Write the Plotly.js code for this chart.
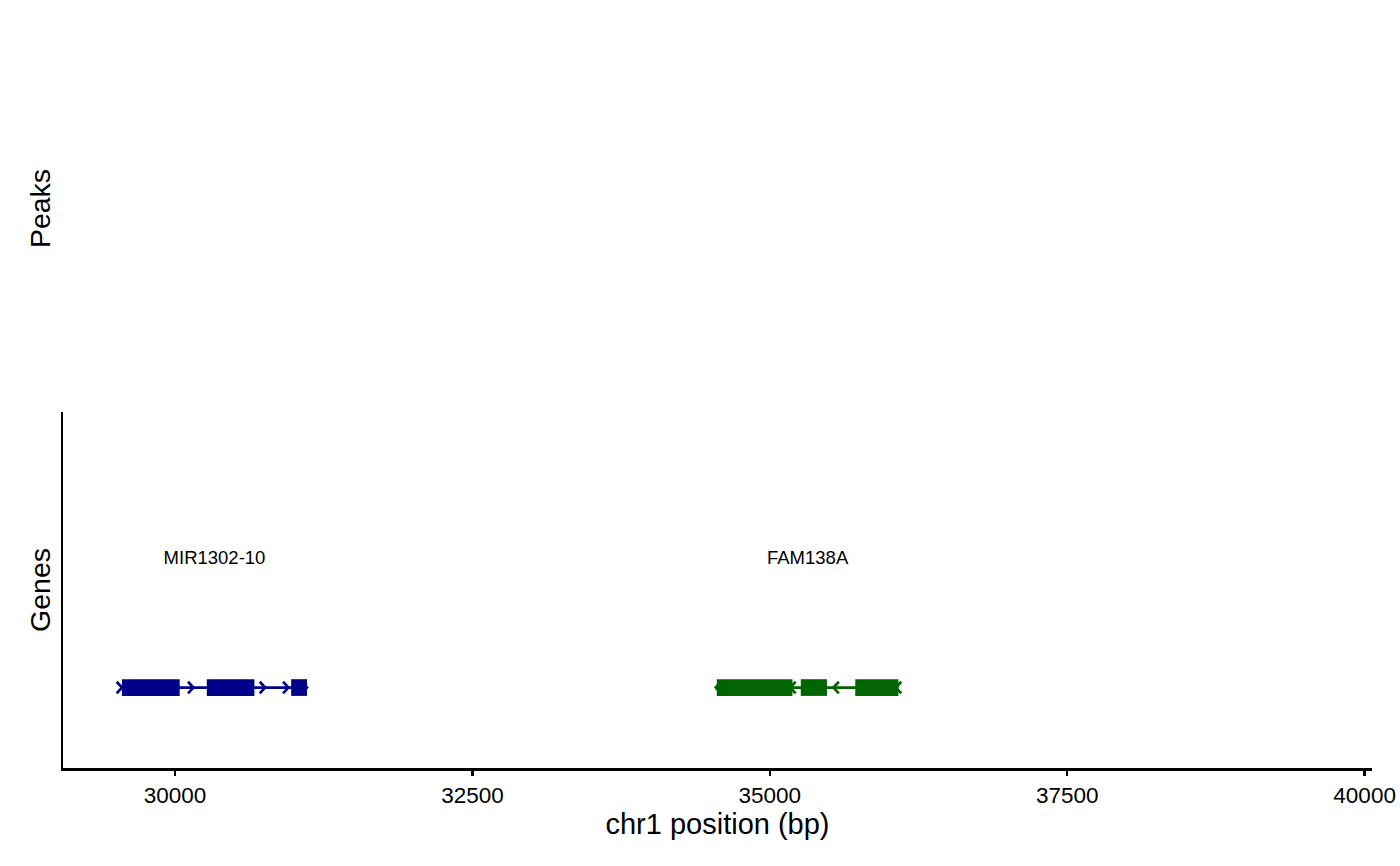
<!DOCTYPE html>
<html>
<head>
<meta charset="utf-8">
<script src="https://cdn.plot.ly/plotly-3.0.1.min.js"></script>
<style>html,body{margin:0;padding:0;background:#fff;}#chart{width:1400px;height:866px;}</style>
</head>
<body>
<div id="chart"></div>
<script>
// ---- data ----
const geneNames = ['MIR1302-10', 'FAM138A'];
const geneStart = [29554, 34554];
const geneEnd = [31109, 36081];
const geneStrand = ['+', '-'];
const geneColors = ['#00008B', '#006400'];
const geneRow = [1, 1];
const labelRow = [2, 2];
const exonStartMIR = [29554, 30267, 30976];
const exonEndMIR = [30039, 30667, 31109];
const exonStartFAM = [34554, 35260, 35718];
const exonEndFAM = [35190, 35480, 36081];
const arrowTipMIR = [29554, 30154, 30757, 30953, 31109];
const arrowTipFAM = [34545, 35172, 35535, 36060];
const xTicks = [30000, 32500, 35000, 37500, 40000];
const xTickText = ['30000', '32500', '35000', '37500', '40000'];

const FONT = 'Liberation Sans, Arial, Helvetica, sans-serif';
const exonStarts = [exonStartMIR, exonStartFAM];
const exonEnds = [exonEndMIR, exonEndFAM];
const arrowTips = [arrowTipMIR, arrowTipFAM];
const ARM_X = 45, ARM_Y = 0.045;

const traces = [];
geneNames.forEach((g, i) => {
  // intron / gene body line
  traces.push({
    type: 'scatter', mode: 'lines', x: [geneStart[i], geneEnd[i]], y: [geneRow[i], geneRow[i]],
    line: {color: geneColors[i], width: 2.7}, hoverinfo: 'skip', showlegend: false
  });
  // strand chevrons
  const cx = [], cy = [];
  const dir = geneStrand[i] === '+' ? -1 : 1;
  arrowTips[i].forEach(t => {
    cx.push(t + dir * ARM_X, t, t + dir * ARM_X, null);
    cy.push(geneRow[i] + ARM_Y, geneRow[i], geneRow[i] - ARM_Y, null);
  });
  traces.push({
    type: 'scatter', mode: 'lines', x: cx, y: cy, connectgaps: false,
    line: {color: geneColors[i], width: 2.7}, hoverinfo: 'skip', showlegend: false
  });
  // exons
  traces.push({
    type: 'bar', orientation: 'h',
    base: exonStarts[i],
    x: exonStarts[i].map((s, k) => exonEnds[i][k] - s),
    y: exonStarts[i].map(() => geneRow[i]),
    width: 0.13,
    marker: {color: geneColors[i], line: {width: 0}},
    hoverinfo: 'skip', showlegend: false
  });
  // label
  traces.push({
    type: 'scatter', mode: 'text', x: [(geneStart[i] + geneEnd[i]) / 2], y: [labelRow[i]],
    text: [g], textfont: {family: FONT, size: 18.5, color: '#000'},
    hoverinfo: 'skip', showlegend: false
  });
});

const layout = {
  width: 1400, height: 866,
  margin: {l: 63, r: 28, t: 0, b: 98},
  paper_bgcolor: '#fff', plot_bgcolor: '#fff',
  barmode: 'overlay',
  showlegend: false,
  font: {family: FONT, color: '#000'},
  xaxis: {
    range: [29058, 40062],
    tickvals: xTicks, ticktext: xTickText,
    ticks: 'outside', ticklen: 5.5, tickwidth: 2.5, tickcolor: '#000',
    tickfont: {family: FONT, size: 22.5, color: '#000'},
    showline: true, linewidth: 2.5, linecolor: '#000',
    showgrid: false, zeroline: false,
    title: {text: 'chr1 position (bp)', font: {family: FONT, size: 29, color: '#000'}, standoff: 6}
  },
  yaxis: {
    domain: [0, 0.4635],
    range: [0.374, 3.144],
    showline: true, linewidth: 2.5, linecolor: '#000',
    showticklabels: false, ticks: '', showgrid: false, zeroline: false
  },
  annotations: [
    {text: 'Peaks', xref: 'paper', yref: 'paper', x: -0.0176, y: 0.729, xanchor: 'center', yanchor: 'middle',
     textangle: -90, showarrow: false, font: {family: FONT, size: 28.5, color: '#000'}},
    {text: 'Genes', xref: 'paper', yref: 'paper', x: -0.0176, y: 0.2318, xanchor: 'center', yanchor: 'middle',
     textangle: -90, showarrow: false, font: {family: FONT, size: 28.5, color: '#000'}}
  ]
};

Plotly.newPlot('chart', traces, layout, {displayModeBar: false, staticPlot: true});
</script>
</body>
</html>
